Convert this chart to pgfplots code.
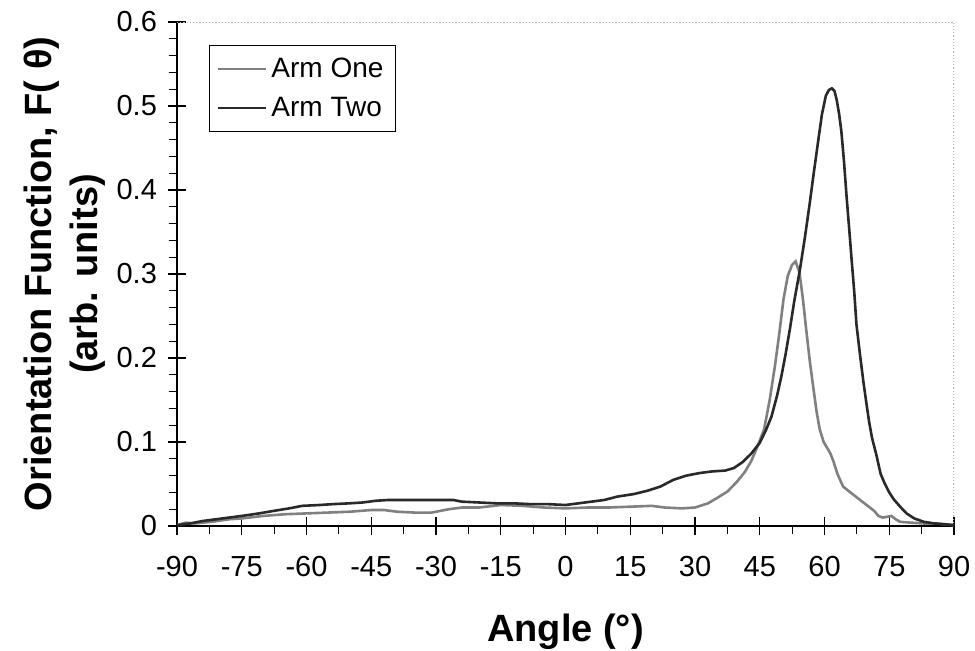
\documentclass[border=0pt]{standalone}
\usepackage{pgfplots}
\pgfplotsset{compat=1.18}
\usepackage{fontspec}
\setmainfont{Liberation Sans}
\definecolor{armone}{gray}{0.5}
\definecolor{armtwo}{gray}{0.16}
\begin{document}
\begin{tikzpicture}
\useasboundingbox (-88.5pt,-62pt) rectangle (399pt,263pt);
\begin{axis}[
  at={(0pt,0pt)}, anchor=south west,
  scale only axis, width=388.5pt, height=252pt,
  xmin=-90, xmax=90, ymin=0, ymax=0.6,
  xtick={-90,-75,-60,-45,-30,-15,0,15,30,45,60,75,90},
  xticklabels={-90,-75,-60,-45,-30,-15,0,15,30,45,60,75,90},
  ytick={0,0.1,0.2,0.3,0.4,0.5,0.6},
  yticklabels={0,0.1,0.2,0.3,0.4,0.5,0.6},
  minor x tick num=1, minor y tick num=4,
  axis x line*=bottom, axis y line*=left,
  axis line style={black, line width=0.8pt, -},
  tick align=center, major tick length=9pt, minor tick length=4pt,
  minor x tick style={yshift=-2pt}, minor y tick style={xshift=-2pt},
  tick style={black, line width=0.6pt},
  ticklabel style={font=\fontsize{14.5}{17}\selectfont},
  xticklabel shift=7pt, yticklabel shift=2pt,
  xlabel={Angle (°)},
  xlabel style={font=\fontsize{19}{23}\selectfont\bfseries, at={(axis description cs:0.5,-0.21)}, anchor=center},
  ylabel={Orientation Function, F( θ)\\(arb. units)},
  ylabel style={font=\fontsize{19}{23}\selectfont\bfseries, align=center, at={(axis description cs:-0.145,0.5)}, anchor=center},
  legend style={at={(axis description cs:0.041,0.954)}, anchor=north west, draw=black, line width=0.6pt,
    font=\fontsize{14}{16}\selectfont, inner xsep=4pt, inner ysep=4pt, row sep=4.5pt, cells={anchor=west}},
  legend image code/.code={\draw[#1, line width=1pt] (0pt,0pt) -- (24pt,0pt);},
]
\draw[gray!60, densely dotted, line width=0.6pt] (rel axis cs:0,1) -- (rel axis cs:1,1) -- (rel axis cs:1,0);
\addplot[armone, line width=1.3pt] coordinates {
(-90,0.001) (-88,0.004) (-86,0.003) (-82,0.005) (-78,0.008) (-75,0.009) (-70,0.012)
(-65,0.014) (-60,0.015) (-55,0.016) (-50,0.017) (-45,0.019) (-42,0.019) (-39,0.017)
(-35,0.016) (-31,0.016) (-27,0.020) (-24,0.022) (-20,0.022) (-15,0.025) (-10,0.024)
(-5,0.022) (0,0.021) (5,0.022) (10,0.022) (15,0.023) (20,0.024) (23,0.022) (27,0.021)
(30,0.022) (33,0.027) (35,0.033) (37.5,0.041) (39.6,0.052) (41.5,0.064) (43,0.077)
(44.5,0.095) (46,0.115) (47.3,0.150) (48.5,0.19) (49.5,0.228) (50.5,0.27) (51.5,0.298)
(52.5,0.311) (53.3,0.315) (54.2,0.302) (55,0.27) (55.8,0.232) (56.6,0.196) (57.4,0.165)
(58.2,0.135) (58.9,0.115) (59.8,0.100) (60.5,0.094) (61.3,0.087) (62,0.078) (63,0.062)
(64.3,0.047) (65.5,0.042) (67,0.036) (68.5,0.030) (70,0.024) (71.5,0.018) (72.5,0.012)
(73.5,0.010) (74.5,0.011) (75.5,0.012) (76.5,0.008) (77.5,0.005) (80,0.004) (83,0.003)
(86,0.003) (88,0.002) (90,0.001)
};
\addlegendentry{Arm One}
\addplot[armtwo, line width=1.3pt] coordinates {
(-90,0.001) (-87,0.003) (-84,0.006) (-81,0.008) (-78,0.010) (-75,0.012) (-71,0.015)
(-67.6,0.018) (-64,0.021) (-61,0.024) (-57,0.025) (-54,0.026) (-50,0.027) (-47,0.028)
(-44,0.030) (-41,0.031) (-37,0.031) (-33,0.031) (-29,0.031) (-26,0.031) (-24,0.029)
(-20,0.028) (-16,0.027) (-12,0.027) (-8,0.026) (-4,0.026) (0,0.025) (3,0.027) (6,0.029)
(9,0.031) (12,0.035) (15.8,0.038) (19,0.042) (22,0.047) (25,0.055) (28,0.060) (31,0.063)
(34,0.065) (37,0.066) (39,0.069) (41,0.076) (43,0.086) (45,0.099) (46.5,0.115)
(47.7,0.13) (49,0.155) (50,0.178) (51,0.205) (52,0.235) (53,0.268) (54.3,0.305)
(55.5,0.345) (56.6,0.385) (57.5,0.42) (58.5,0.457) (59.4,0.49) (60.3,0.512) (61,0.519)
(61.7,0.521) (62.3,0.518) (62.8,0.508) (63.4,0.49) (63.9,0.47) (64.5,0.435) (65.1,0.393)
(65.7,0.355) (66.3,0.316) (66.9,0.278) (67.4,0.24) (68.2,0.205) (69,0.172) (69.6,0.150)
(70.3,0.125) (71,0.105) (72,0.085) (73,0.062) (74,0.050) (75,0.040) (76,0.032)
(77.7,0.022) (79,0.015) (80.8,0.009) (83,0.005) (85.5,0.003) (88,0.002) (90,0.001)
};
\addlegendentry{Arm Two}
\end{axis}
\end{tikzpicture}
\end{document}
